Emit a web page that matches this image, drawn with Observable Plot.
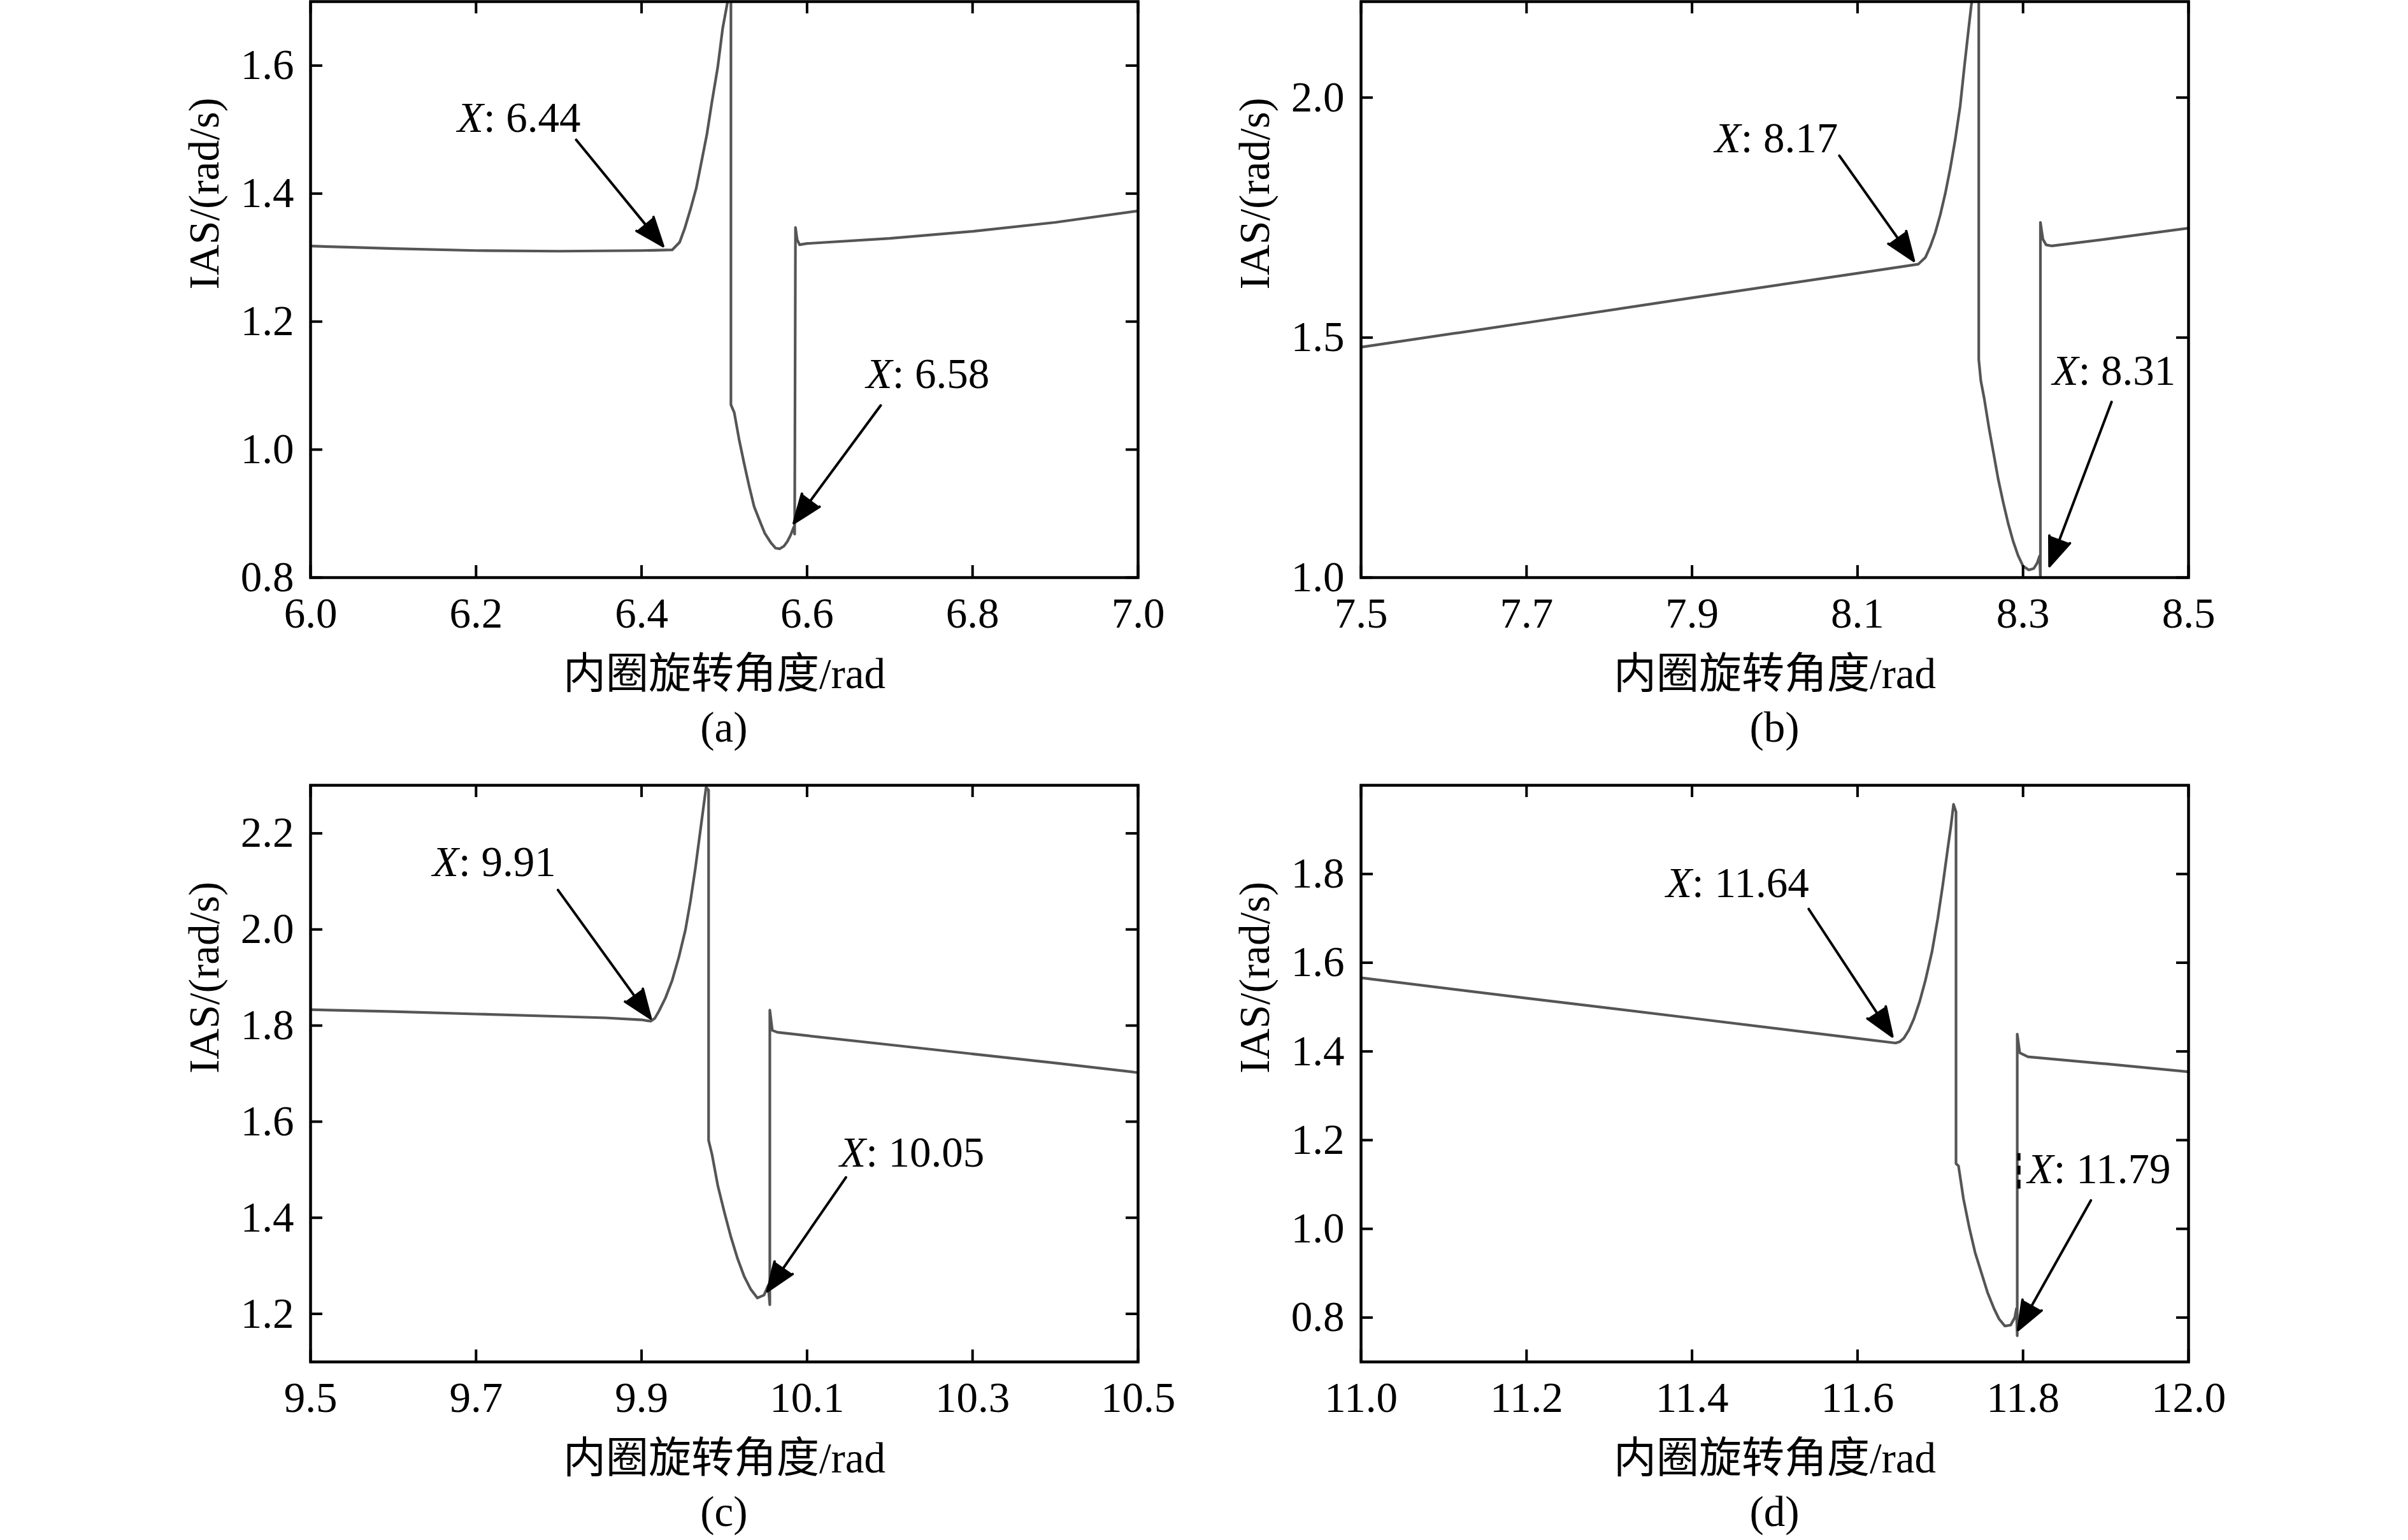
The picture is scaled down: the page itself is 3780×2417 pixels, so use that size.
<!DOCTYPE html>
<html><head><meta charset="utf-8">
<script src="https://cdn.jsdelivr.net/npm/d3@7"></script>
<script src="https://cdn.jsdelivr.net/npm/@observablehq/plot@0.6"></script>
<style>
html,body{margin:0;padding:0;background:#fff;}
#fig{position:relative;width:3780px;height:2417px;overflow:hidden;background:#fff;}
.panel{position:absolute;}
.cap{position:absolute;font-family:'Liberation Serif','Times New Roman',serif;font-size:67px;line-height:67px;width:400px;text-align:center;color:#000;}
</style></head><body><div id="fig"></div>
<script>
// ---------- data ----------
const xLabel = "内圈旋转角度/rad";
const yLabel = "IAS/(rad/s)";

// panel (a)
const xTicksA = [6.0, 6.2, 6.4, 6.6, 6.8, 7.0];
const yTicksA = [0.8, 1.0, 1.2, 1.4, 1.6];
const xA = [6.00, 6.05, 6.10, 6.20, 6.30, 6.40, 6.437, 6.446, 6.452, 6.459, 6.466, 6.472, 6.479, 6.485, 6.492, 6.498, 6.504, 6.507, 6.508, 6.508, 6.512, 6.518, 6.524, 6.530, 6.536, 6.543, 6.549, 6.556, 6.562, 6.567, 6.572, 6.576, 6.580, 6.584, 6.585, 6.586, 6.588, 6.591, 6.600, 6.700, 6.800, 6.900, 7.000];
const yA = [1.318, 1.316, 1.314, 1.311, 1.310, 1.311, 1.312, 1.324, 1.345, 1.375, 1.408, 1.447, 1.493, 1.543, 1.597, 1.658, 1.700, 1.740, 1.760, 1.070, 1.058, 1.015, 0.978, 0.943, 0.911, 0.888, 0.869, 0.855, 0.846, 0.845, 0.849, 0.856, 0.866, 0.879, 0.868, 1.347, 1.328, 1.320, 1.322, 1.330, 1.341, 1.355, 1.373];
const annA = [{x: 6.209, y: 1.518, v: "6.44"}, {x: 6.703, y: 1.118, v: "6.58"}];
const arrA = [{x1: 6.321, y1: 1.484, x2: 6.426, y2: 1.318}, {x1: 6.689, y1: 1.069, x2: 6.584, y2: 0.885}];

// panel (b)
const xTicksB = [7.5, 7.7, 7.9, 8.1, 8.3, 8.5];
const yTicksB = [1.0, 1.5, 2.0];
const xB = [7.50, 7.70, 7.90, 8.10, 8.1735, 8.182, 8.188, 8.194, 8.200, 8.206, 8.212, 8.218, 8.224, 8.229, 8.234, 8.238, 8.242, 8.2465, 8.2465, 8.249, 8.253, 8.259, 8.265, 8.270, 8.276, 8.282, 8.288, 8.294, 8.300, 8.307, 8.313, 8.317, 8.320, 8.321, 8.321, 8.324, 8.328, 8.335, 8.400, 8.500];
const yB = [1.480, 1.531, 1.583, 1.634, 1.653, 1.667, 1.690, 1.719, 1.756, 1.800, 1.852, 1.912, 1.982, 2.063, 2.140, 2.200, 2.300, 2.400, 1.454, 1.410, 1.374, 1.310, 1.253, 1.205, 1.157, 1.113, 1.076, 1.046, 1.024, 1.016, 1.019, 1.030, 1.045, 1.000, 1.740, 1.705, 1.693, 1.691, 1.705, 1.728];
const annB = [{x: 7.959, y: 1.914, v: "8.17"}, {x: 8.367, y: 1.430, v: "8.31"}];
const arrB = [{x1: 8.078, y1: 1.879, x2: 8.168, y2: 1.660}, {x1: 8.407, y1: 1.366, x2: 8.332, y2: 1.024}];

// panel (c)
const xTicksC = [9.5, 9.7, 9.9, 10.1, 10.3, 10.5];
const yTicksC = [1.2, 1.4, 1.6, 1.8, 2.0, 2.2];
const xC = [9.50, 9.60, 9.70, 9.80, 9.857, 9.90, 9.911, 9.916, 9.921, 9.929, 9.937, 9.945, 9.953, 9.959, 9.965, 9.971, 9.978, 9.981, 9.981, 9.985, 9.992, 10.000, 10.008, 10.016, 10.024, 10.032, 10.040, 10.048, 10.053, 10.055, 10.055, 10.058, 10.064, 10.10, 10.20, 10.30, 10.40, 10.50];
const yC = [1.833, 1.829, 1.824, 1.819, 1.816, 1.812, 1.809, 1.815, 1.830, 1.858, 1.894, 1.942, 1.999, 2.058, 2.127, 2.205, 2.296, 2.290, 1.561, 1.533, 1.468, 1.412, 1.360, 1.315, 1.278, 1.251, 1.233, 1.239, 1.259, 1.219, 1.832, 1.790, 1.786, 1.779, 1.760, 1.741, 1.722, 1.702];
const annC = [{x: 9.679, y: 2.140, v: "9.91"}, {x: 10.171, y: 1.535, v: "10.05"}];
const arrC = [{x1: 9.799, y1: 2.082, x2: 9.911, y2: 1.815}, {x1: 10.147, y1: 1.484, x2: 10.052, y2: 1.247}];

// panel (d)
const xTicksD = [11.0, 11.2, 11.4, 11.6, 11.8, 12.0];
const yTicksD = [0.8, 1.0, 1.2, 1.4, 1.6, 1.8];
const xD = [11.00, 11.20, 11.40, 11.588, 11.646, 11.651, 11.656, 11.662, 11.668, 11.675, 11.682, 11.690, 11.697, 11.703, 11.709, 11.713, 11.716, 11.719, 11.719, 11.722, 11.728, 11.735, 11.742, 11.750, 11.757, 11.765, 11.771, 11.778, 11.785, 11.790, 11.792, 11.793, 11.793, 11.796, 11.806, 11.90, 12.00];
const yD = [1.566, 1.520, 1.475, 1.432, 1.419, 1.422, 1.430, 1.448, 1.473, 1.512, 1.560, 1.625, 1.700, 1.775, 1.857, 1.910, 1.957, 1.940, 1.147, 1.142, 1.068, 1.003, 0.947, 0.899, 0.857, 0.820, 0.797, 0.781, 0.783, 0.800, 0.820, 0.759, 1.439, 1.397, 1.388, 1.372, 1.354];
const annD = [{x: 11.400, y: 1.779, v: "11.64"}, {x: 11.837, y: 1.134, v: "11.79"}];
const arrD = [{x1: 11.541, y1: 1.721, x2: 11.642, y2: 1.434}, {x1: 11.882, y1: 1.064, x2: 11.794, y2: 0.772}];
const markD = [{x: 11.795, y1: 1.090, y2: 1.170}];

// ---------- drawing ----------
const FONT = "'Liberation Serif','Times New Roman','Noto Sans CJK SC',serif";
const fig = document.getElementById("fig");

function panel(cfg) {
  const {left, top, width, height, mL, mR, mT, mB, xDom, yDom, xT, yT, xs, ys, ann, arrows, extra, caption} = cfg;
  const iw = width - mL - mR, ih = height - mT - mB;
  const curve = xs.map((x, i) => ({x, y: ys[i]}));
  const tk = {stroke: "#000", strokeWidth: 4};
  const marks = [
    Plot.line(curve, {x: "x", y: "y", stroke: "#555", strokeWidth: 4.2, clip: true}),
    Plot.tickX(xT, {x: d => d, insetTop: ih - 19, ...tk}),
    Plot.tickX(xT, {x: d => d, insetBottom: ih - 19, ...tk}),
    Plot.tickY(yT, {y: d => d, insetRight: iw - 19, ...tk}),
    Plot.tickY(yT, {y: d => d, insetLeft: iw - 19, ...tk}),
    Plot.frame({stroke: "#000", strokeWidth: 4.5}),
    Plot.axisX({ticks: xT, tickSize: 0, tickPadding: 31, tickFormat: d => d.toFixed(1), label: null, fontSize: 67, fontFamily: FONT}),
    Plot.axisY({ticks: yT, tickSize: 0, tickPadding: 26, tickFormat: d => d.toFixed(1), label: null, fontSize: 67, fontFamily: FONT}),
    Plot.text([xLabel], {text: d => d, frameAnchor: "bottom", dy: 173, lineAnchor: "bottom", fontSize: 67}),
    Plot.text([yLabel], {text: d => d, frameAnchor: "left", dx: -145, rotate: -90, lineAnchor: "bottom", fontSize: 67}),
    Plot.arrow(arrows, {x1: "x1", y1: "y1", x2: "x2", y2: "y2", stroke: "#000", fill: "#000", strokeWidth: 4, headAngle: 42, headLength: 18, strokeLinejoin: "miter"}),
    Plot.text(ann, {x: "x", y: "y", text: () => "X", fontStyle: "italic", textAnchor: "end", lineAnchor: "middle", fontSize: 67}),
    Plot.text(ann, {x: "x", y: "y", text: d => ": " + d.v, textAnchor: "start", lineAnchor: "middle", fontSize: 67})
  ];
  if (extra) marks.push(Plot.ruleX(extra, {x: "x", y1: "y1", y2: "y2", stroke: "#000", strokeWidth: 5, strokeDasharray: "14,8"}));
  const svg = Plot.plot({
    width, height, marginLeft: mL, marginRight: mR, marginTop: mT, marginBottom: mB,
    x: {domain: xDom}, y: {domain: yDom},
    style: {fontFamily: FONT, fontSize: "67px", background: "transparent", color: "#000", overflow: "visible"},
    marks
  });
  const div = document.createElement("div");
  div.className = "panel";
  div.style.left = left + "px"; div.style.top = top + "px";
  div.appendChild(svg);
  fig.appendChild(div);
  const cap = document.createElement("div");
  cap.className = "cap";
  cap.textContent = caption.text;
  cap.style.left = (caption.cx - 200) + "px";
  cap.style.top = caption.top + "px";
  fig.appendChild(cap);
}

const L = {left: 0, width: 1890, mL: 487, mR: 104};
const R = {left: 1890, width: 1890, mL: 246, mR: 345};
const T = {top: 0, height: 1100, mT: 2, mB: 194};
const B = {top: 1150, height: 1180, mT: 82, mB: 193};

panel({...L, ...T, xDom: [6, 7], yDom: [0.8, 1.7], xT: xTicksA, yT: yTicksA, xs: xA, ys: yA, ann: annA, arrows: arrA, caption: {text: "(a)", cx: 1136.5, top: 1108}});
panel({...R, ...T, xDom: [7.5, 8.5], yDom: [1.0, 2.2], xT: xTicksB, yT: yTicksB, xs: xB, ys: yB, ann: annB, arrows: arrB, caption: {text: "(b)", cx: 2785.5, top: 1108}});
panel({...L, ...B, xDom: [9.5, 10.5], yDom: [1.1, 2.3], xT: xTicksC, yT: yTicksC, xs: xC, ys: yC, ann: annC, arrows: arrC, caption: {text: "(c)", cx: 1136.5, top: 2339}});
panel({...R, ...B, xDom: [11, 12], yDom: [0.7, 2.0], xT: xTicksD, yT: yTicksD, xs: xD, ys: yD, ann: annD, arrows: arrD, extra: markD, caption: {text: "(d)", cx: 2785.5, top: 2339}});
</script></body></html>
